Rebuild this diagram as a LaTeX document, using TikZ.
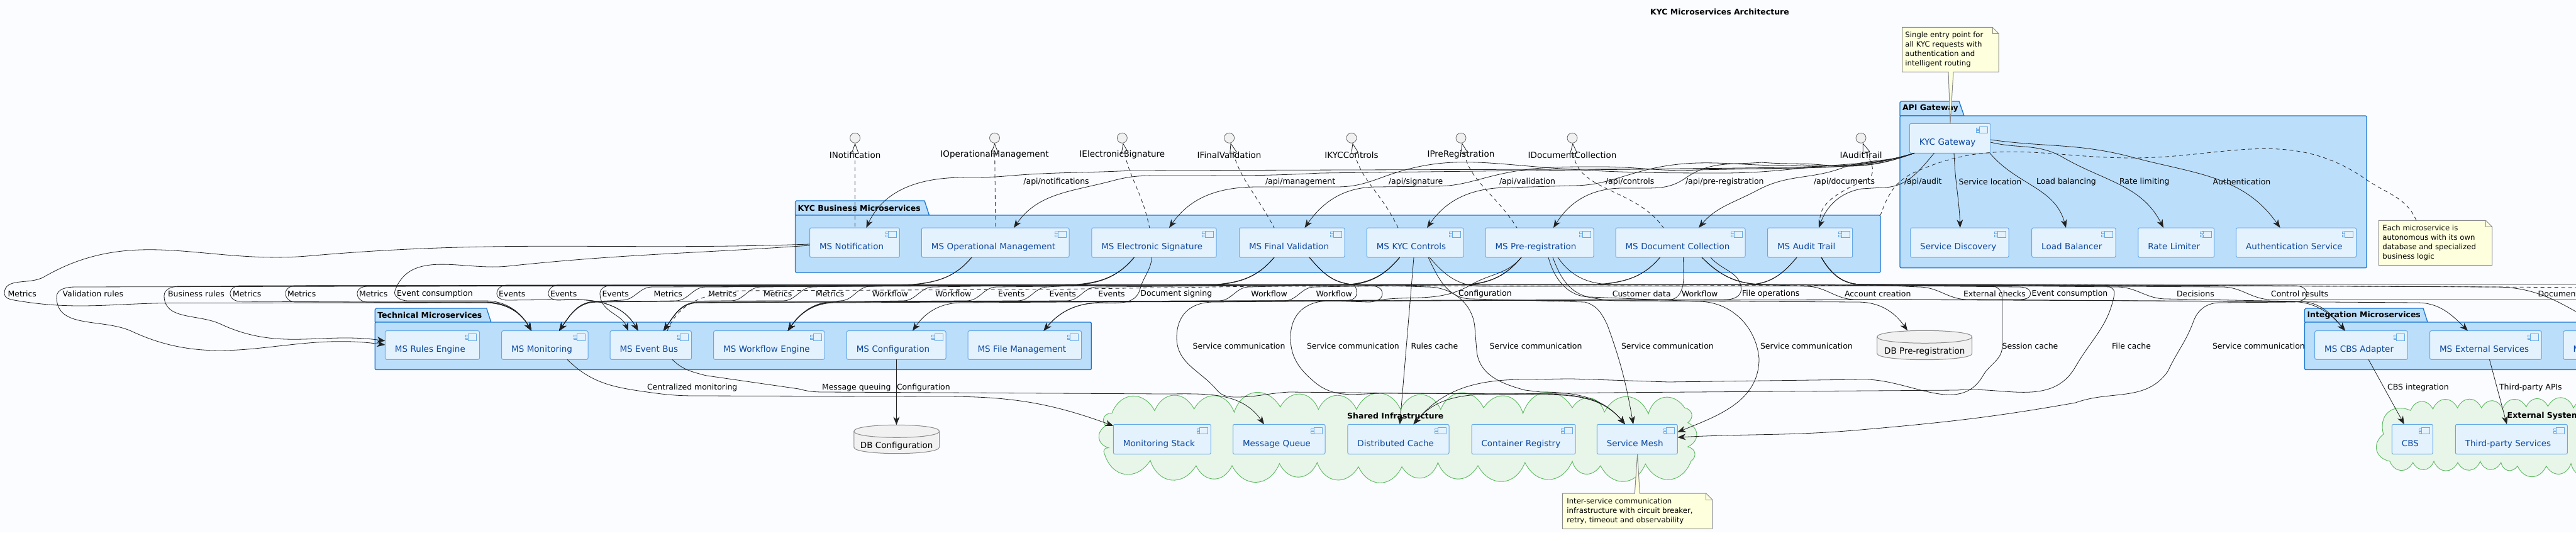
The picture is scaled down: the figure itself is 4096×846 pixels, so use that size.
\documentclass[tikz,border=0pt]{standalone}
\usepackage{fontspec}
\setmainfont{DejaVu Sans}
\usetikzlibrary{arrows.meta}
\definecolor{pagebg}{HTML}{FAFCFF}
\definecolor{pkgfill}{HTML}{BBDEFB}
\definecolor{pkgline}{HTML}{1976D2}
\definecolor{compfill}{HTML}{E3F2FD}
\definecolor{compline}{HTML}{64A8E8}
\definecolor{comptext}{HTML}{0D47A1}
\definecolor{cloudfill}{HTML}{E8F5E9}
\definecolor{cloudline}{HTML}{5CB85F}
\definecolor{notefill}{HTML}{FEFFDD}
\definecolor{greyline}{HTML}{8A8A8A}
\definecolor{dbfill}{HTML}{F1F1F1}
\definecolor{edgecol}{HTML}{222222}
\tikzset{
  x=1pt,y=-1pt,
  every node/.style={inner sep=0pt,outer sep=0pt},
  lbl/.style={anchor=west,font=\fontsize{12.5}{15}\selectfont,text=black},
  bold/.style={anchor=west,font=\fontsize{12.5}{15}\selectfont\bfseries,text=black},
  compbox/.style={draw=compline,fill=compfill,line width=1pt,rounded corners=2.5pt,inner xsep=15.5pt,inner ysep=0pt,
    align=left,text height=24pt,text depth=2pt,text=comptext,font=\fontsize{13.5}{16}\selectfont},
  iconst/.style={draw=compline,fill=compfill,line width=.9pt},
  pkgst/.style={draw=pkgline,fill=pkgfill,line width=1.3pt,line join=round},
  pkgbody/.style={pkgst,rounded corners=2pt},
  cloudst/.style={draw=cloudline,fill=cloudfill,line width=.9pt},
  notest/.style={draw=greyline,fill=notefill,line width=1pt,line join=miter},
  notetxt/.style={anchor=west,font=\fontsize{11.7}{15}\selectfont,text=black},
  dbst/.style={draw=greyline,fill=dbfill,line width=1pt},
  dbnode/.style={text height=30pt,text depth=2pt,align=center,font=\fontsize{13.5}{16}\selectfont,text=black},
  iface/.style={circle,draw=edgecol!70,fill=dbfill,line width=.8pt,minimum size=16pt},
  ifacelbl/.style={anchor=center,font=\fontsize{13.5}{16}\selectfont,text=black},
  conn/.style={draw=edgecol,line width=.8pt,-{Stealth[length=13pt,width=10pt,inset=4pt]}},
  plainline/.style={draw=edgecol,line width=.8pt},
  dashline/.style={draw=edgecol,line width=.8pt,dash pattern=on 6pt off 5pt},
  ifedge/.style={dashline,{Triangle[open,length=17pt,width=12pt]}-},
}
\newcommand\comp[6]{%
  \node[compbox,minimum width={(#4-#2)*1pt},minimum height={(#5-#3)*1pt},text width={(#4-#2-31)*1pt}] (#1) at ({(#2+#4)/2},{(#3+#5)/2}) {\mbox{#6}};
  \draw[iconst] ([shift={(-18,5)}]#1.north east) rectangle ++(13.3,10.3);
  \draw[iconst] ([shift={(-22.3,6.7)}]#1.north east) rectangle ++(4.6,2.7);
  \draw[iconst] ([shift={(-22.3,11.3)}]#1.north east) rectangle ++(4.6,2.7);
}
\newcommand\pkg[9]{%
  \draw[pkgst] (#2,#6) -- (#2,{#3+2}) -- ({#2+2},#3) -- (#5,#3) -- (#4,#6) -- cycle;
  \node[pkgbody,minimum width={(#7-#2)*1pt},minimum height={(#8-#6)*1pt}] (#1) at ({(#2+#7)/2},{(#6+#8)/2}) {};
  \node[bold] (#1-l) at ({#2+4},{(#3+#6)/2}) {#9};
}
\newcommand\dbshape[4]{%
  \draw[dbst] (#1,{#2+10}) .. controls (#1,{#2-3.3}) and (#3,{#2-3.3}) .. (#3,{#2+10}) -- (#3,{#4-10})
     .. controls (#3,{#4+3.3}) and (#1,{#4+3.3}) .. (#1,{#4-10}) -- cycle;
  \draw[dbst,fill=none] (#1,{#2+10}) .. controls (#1,{#2+23.3}) and (#3,{#2+23.3}) .. (#3,{#2+10});
}
\newcommand\LU[3]{-- ({#1+16},#2) to[out=180,in=90] (#1,466.5) to[out=-90,in=180] ({#1+16},#3)}
\newcommand\SL[3]{-- (#1,#2) to[out=180,in=0] ({#1-48},#3)}
\newcommand\SR[3]{-- (#1,#2) to[out=0,in=180] ({#1+78},#3)}
\newcommand\elabel[4]{\node[lbl] (#1) at (#2,#3) {#4};}
\newcommand\iface[4]{%
  \node[iface] (#1) at (#2,219.3) {};
  \node[ifacelbl] (#1-l) at (#3,246) {#4};
}
\begin{document}
\begin{tikzpicture}
\useasboundingbox (0,0) rectangle (4096,846);
\fill[pagebg] (0,0) rectangle (4096,846);
\clip (0,0) rectangle (4096,846);

% clouds
\draw[cloudst] (1767.9,656.7) \foreach \x/\y in {1836/652.7,1898.6/650,1962.4/655,2035.7/646.7,2096.3/650.7,2156.9/650.7,2227/650.7,2290.8/650.7,2359/648,2421.6/657,2500/648,2551/655,2621/657.7,2678.6/648,2683.7/671.7,2683.7/710,2688.8/733,2616.3/737.3,2544.9/740,2500/733,2424.7/735,2350/740,2286.4/735,2229/741.7,2160/741.7,2094.4/735,2034.4/736.7,1959/740,1901.8/740,1829/731.7,1756.4/721.7,1762.8/711.7,1758/676.7,1767.9/656.7} { to[bend left=65,looseness=1.4] (\x,\y) } -- cycle;
\node[bold,anchor=center] (sharedlbl) at (2218.8,661) {Shared Infrastructure};
\draw[cloudst] (3789.8,690) \foreach \x/\y in {3833/652.3,3868.5/650,3907.6/648.3,3945.7/648.3,3979.2/650,4016.8/646.7,4051.3/645.7,4091.9/648.3,4130/650,4150/700,4130/745,4088/736.7,4048.7/740.7,4003/740.7,3976.7/735,3943.7/733,3908/735,3870/733,3836.6/735,3800/733,3789.8/690} { to[bend left=65,looseness=1.4] (\x,\y) } -- cycle;
\node[bold] (extlbl) at (3986.7,661) {External Systems};

% packages
\pkg{pgate}{3021}{161}{3123}{3115}{184}{3763}{425.7}{API Gateway}
\pkg{pbiz}{1264.5}{319}{1477.5}{1470}{342}{2990}{433}{KYC Business Microservices}
\pkg{ptech}{596.3}{490}{780.8}{773.7}{512}{1735.3}{587.5}{Technical Microservices}
\pkg{pint}{3664.5}{490}{3860}{3853}{512}{4300}{587.5}{Integration Microservices}

% components
\comp{gw}{3036.3}{196.3}{3165}{243.3}{KYC Gateway}
\comp{sd}{3037.7}{362}{3194}{409}{Service Discovery}
\comp{lb}{3230.7}{362}{3364}{409}{Load Balancer}
\comp{rl}{3399.8}{362}{3520.7}{409}{Rate Limiter}
\comp{auth}{3555.7}{362}{3746.5}{409}{Authentication Service}

\comp{notif}{1287.5}{362}{1430.4}{409}{MS Notification}
\comp{opm}{1465.4}{362}{1700}{409}{MS Operational Management}
\comp{elec}{1735.8}{362}{1934}{409}{MS Electronic Signature}
\comp{fin}{1970.5}{362}{2138}{409}{MS Final Validation}
\comp{kyc}{2173.3}{362}{2327}{409}{MS KYC Controls}
\comp{pre}{2362}{362}{2534}{409}{MS Pre-registration}
\comp{doc}{2569}{362}{2775}{409}{MS Document Collection}
\comp{audit}{2810.5}{362}{2945.7}{409}{MS Audit Trail}

\comp{rules}{612.4}{525.7}{762.5}{571.3}{MS Rules Engine}
\comp{mon}{797.6}{525.7}{935}{571.3}{MS Monitoring}
\comp{bus}{970}{525.7}{1099.5}{571.3}{MS Event Bus}
\comp{wf}{1134.6}{525.7}{1311}{571.3}{MS Workflow Engine}
\comp{cfg}{1346.3}{525.7}{1504}{571.3}{MS Configuration}
\comp{file}{1539}{525.7}{1719.6}{571.3}{MS File Management}

\comp{cbsa}{3680.7}{525.7}{3828.4}{571.3}{MS CBS Adapter}
\comp{exts}{3863.5}{525.7}{4041.3}{571.3}{MS External Services}
\comp{ithird}{4076}{525.7}{4260}{571.3}{M}

\comp{mstack}{1770.4}{674.3}{1925.4}{721.7}{Monitoring Stack}
\comp{mq}{1960.5}{674.3}{2107}{721.7}{Message Queue}
\comp{cache}{2142.9}{674.3}{2304}{721.7}{Distributed Cache}
\comp{creg}{2340}{674.3}{2505}{721.7}{Container Registry}
\comp{mesh}{2539.3}{674.3}{2667.3}{721.7}{Service Mesh}

\comp{cbs}{3803.3}{674.3}{3868.3}{721.7}{CBS}
\comp{tps}{3904.3}{674.3}{4082.3}{721.7}{Third-party Services}

% databases
\dbshape{1357.8}{675.3}{1493.6}{720.7}
\node[dbnode,minimum width=135.8pt,minimum height=45.4pt] (dbc) at (1425.7,698) {DB Configuration};
\dbshape{2984.7}{525.3}{3135.7}{571.7}
\node[dbnode,minimum width=151pt,minimum height=46.4pt] (dbp) at (3060.2,548.5) {DB Pre-registration};

% interfaces
\iface{iNotif}{1359.6}{1359.6}{INotification}
\iface{iOper}{1581.5}{1581.5}{IOperationalManagement}
\iface{iElec}{1784.3}{1784.3}{IElectronicSignature}
\iface{iFin}{1954.6}{1954.6}{IFinalValidation}
\iface{iKyc}{2149}{2149}{IKYCControls}
\iface{iPre}{2323}{2323}{IPreRegistration}
\iface{iDoc}{2500}{2500}{IDocumentCollection}
\iface{iAud}{2959}{2959}{IAuditTrail}

\draw[ifedge] (iNotif) -- (1359.6,0 |- notif.north);
\draw[ifedge] (iOper) -- (1582.8,0 |- opm.north);
\draw[ifedge] (iElec) to[out=-80,in=101] (1827.7,0 |- elec.north);
\draw[ifedge] (iFin) to[out=-75,in=118] (2026,0 |- fin.north);
\draw[ifedge] (iKyc) to[out=-78,in=115] (2223,0 |- kyc.north);
\draw[ifedge] (iPre) to[out=-78,in=122] (2412,0 |- pre.north);
\draw[ifedge] (iDoc) to[out=-85,in=125] (2645,0 |- doc.north);
\draw[ifedge] (iAud) to[out=-70,in=25] (2968,285) to[out=205,in=113] (2897,0 |- audit.north);

% gateway outgoing
\draw[conn] (3044,0 |- gw.south) to[out=197,in=3] (2850,268) -- (1800,271) to[out=183,in=5] (1597,280) to[out=185,in=3] (1514,282.5) to[out=183,in=65] (1377.4,0 |- notif.north);
\draw[conn] (3044,0 |- gw.south) to[out=197,in=3] (2850,266) -- (2100,275) to[out=183,in=0] (1852,279) to[out=180,in=15] (1770,287) to[out=195,in=55] (1612,0 |- opm.north);
\draw[conn] (3044,0 |- gw.south) to[out=197,in=5] (2900,264) to[out=185,in=0] (2738,275) to[out=180,in=-5] (2419,263) to[out=175,in=20] (2200,281) to[out=200,in=0] (2125,297) -- (2000,297) to[out=180,in=55] (1859,0 |- elec.north);
\draw[conn] (3044,0 |- gw.south) to[out=197,in=3] (2900,266) -- (2700,270) to[out=183,in=0] (2546,265) to[out=180,in=15] (2360,283) to[out=195,in=0] (2280,296) -- (2190,297) to[out=180,in=55] (2074.5,0 |- fin.north);
\draw[conn] (3044,0 |- gw.south) to[out=200,in=-3] (2865,262) to[out=183,in=15] (2610,272) to[out=195,in=0] (2500,295) -- (2400,298) to[out=180,in=55] (2269,0 |- kyc.north);
\draw[conn] (3044,0 |- gw.south) to[out=200,in=-5] (2897,262) to[out=175,in=-5] (2801,258) to[out=185,in=35] (2680,283) to[out=215,in=0] (2610,299) -- (2580,299) to[out=180,in=58] (2470,0 |- pre.north);
\draw[conn] (3044,0 |- gw.south) to[out=200,in=20] (2929,267) to[out=200,in=28] (2795,302) to[out=208,in=50] (2701,0 |- doc.north);
\draw[conn] (3075.5,0 |- gw.south) to[out=-130,in=0] (2993,298) -- (2960,300) to[out=190,in=70] (2892,0 |- audit.north);
\draw[conn] (3107,0 |- gw.south) to[out=-88,in=92] (3116.7,0 |- sd.north);
\draw[conn] (3164,0 |- gw.south) to[out=-50,in=105] (3285,0 |- lb.north);
\draw[conn] (gw.east |- 0,226) to[out=-14,in=150] (3280,250) to[out=-30,in=117] (3440,0 |- rl.north);
\draw[conn] (gw.east |- 0,222) to[out=-8,in=165] (3391,250) to[out=-15,in=125] (3625.5,0 |- auth.north);

% left-running Metrics / rules
\draw[conn] (notif.west |- 0,388) to[out=182,in=5] (491,406.7) to[out=185,in=30] (70,440) to[out=210,in=90] (7,466.5) to[out=-90,in=170] (21,476.7) to[out=-10,in=180] (280,481.5) -- (771,481) to[out=0,in=120] (845,0 |- mon.north);
\draw[conn] (notif.west |- 0,390) to[out=184,in=6] (807,423) to[out=186,in=70] (628,462) to[out=-110,in=180] (648,478) -- (771,478) to[out=0,in=120] (845,0 |- mon.north);
\draw[conn] (2026,0 |- fin.south) to[out=-130,in=5] (1935,452) -- (120,456) to[out=180,in=90] (90,472) to[out=-90,in=155] (210,526.7) to[out=-25,in=172] (rules.west |- 0,548);
\draw[conn] (2225.6,0 |- kyc.south) to[out=-130,in=5] (2145,452) -- (285,455) to[out=180,in=90] (261,470) to[out=-90,in=155] (350.8,515) to[out=-25,in=172] (rules.west |- 0,541.7);
\draw[conn] (2419,0 |- pre.south) to[out=-130,in=5] (2335,452) \LU{366}{454}{479} -- (771,481) to[out=0,in=120] (845,0 |- mon.north);
\draw[conn] (2639.5,0 |- doc.south) to[out=-130,in=5] (2540,452) \LU{454}{454}{480} -- (771,480) to[out=0,in=120] (845,0 |- mon.north);
\draw[conn] (2857,0 |- audit.south) to[out=-130,in=5] (2785,452) \LU{568}{455}{480} -- (771,480) to[out=0,in=120] (845,0 |- mon.north);
\draw[conn] (2639.5,0 |- doc.south) to[out=-130,in=5] (2540,452.5) \LU{790}{453}{477} -- (912,476) to[out=0,in=120] (1014.7,0 |- bus.north);
\draw[conn] (2419,0 |- pre.south) to[out=-130,in=5] (2335,452.5) \LU{872}{453}{477} -- (912,476) to[out=0,in=120] (1014.7,0 |- bus.north);
\draw[conn] (2857,0 |- audit.south) to[out=-130,in=5] (2785,452.5) -- (970,454) to[out=180,in=90] (954,466.5) to[out=-90,in=112] (999,0 |- bus.north);

% S curves going left along the label row
\draw[conn] (2225.6,0 |- kyc.south) to[out=-130,in=5] (2145,452.5) \SL{1037}{456}{477} -- (948,479) to[out=180,in=55] (889,0 |- mon.north);
\draw[conn] (2026,0 |- fin.south) to[out=-130,in=5] (1935,452.5) \SL{1122}{456}{478} -- (948,480) to[out=180,in=55] (889,0 |- mon.north);
\draw[conn] (1803.4,0 |- elec.south) to[out=-130,in=5] (1712,452) \SL{1210}{456}{478} -- (948,480) to[out=180,in=55] (889,0 |- mon.north);
\draw[conn] (1545,0 |- opm.south) to[out=-130,in=5] (1450,452) \SL{1293}{456}{478} -- (948,479) to[out=180,in=55] (889,0 |- mon.north);
\draw[conn] (1545,0 |- opm.south) to[out=-130,in=5] (1450,452.5) \SL{1384}{455}{478} -- (1329,479) to[out=180,in=55] (1252.6,0 |- wf.north);
\draw[conn] (1803.4,0 |- elec.south) to[out=-130,in=5] (1712,452.5) \SL{1484}{456}{478} -- (1329,480) to[out=180,in=55] (1252.6,0 |- wf.north);
\draw[conn] (2225.6,0 |- kyc.south) to[out=-130,in=5] (2145,452) \SL{1986}{456}{478} -- (1329,481) to[out=180,in=55] (1252.6,0 |- wf.north);
\draw[conn] (2419,0 |- pre.south) to[out=-130,in=5] (2335,452) \SL{2090}{456}{478} -- (1329,480) to[out=180,in=55] (1252.6,0 |- wf.north);
\draw[conn] (2676.5,0 |- doc.south) -- (2677,440) to[out=-90,in=0] (2655,476) -- (1329,480) to[out=180,in=55] (1252.6,0 |- wf.north);
\draw[conn] (2026,0 |- fin.south) to[out=-130,in=5] (1935,452) \SL{1585}{456}{478} -- (1110,481) to[out=180,in=55] (1055,0 |- bus.north);
\draw[conn] (1803.4,0 |- elec.south) to[out=-130,in=5] (1712,453) \SL{1666}{456}{478} -- (1110,481) to[out=180,in=55] (1055,0 |- bus.north);
\draw[conn] (2225.6,0 |- kyc.south) to[out=-130,in=5] (2145,453) \SL{1744}{456}{478} -- (1110,481) to[out=180,in=55] (1055,0 |- bus.north);
\draw[conn] (2419,0 |- pre.south) to[out=-130,in=30] (2340,452) to[out=210,in=8] (2190,477) -- (1530,481) to[out=180,in=55] (1451,0 |- cfg.north);
\draw[conn] (1831.5,0 |- elec.south) to[out=-95,in=75] (1812.5,460) to[out=-105,in=0] (1749,481.5) to[out=180,in=50] (1659.4,0 |- file.north);
\draw[conn] (2720,0 |- doc.south) to[out=-50,in=90] (2768.5,460) to[out=-90,in=0] (2745,476) -- (1760,480) to[out=180,in=50] (1659.4,0 |- file.north);

% dropping to shared infrastructure
\draw[conn] (2082,0 |- fin.south) to[out=-50,in=175] (2150,452) to[out=-5,in=90] (2157,466.5) to[out=-90,in=0] (2135,478) -- (1930,480) to[out=180,in=90,looseness=1.15] (1871,536.7) to[out=-90,in=130] (1935,620) to[out=-50,in=180] (1966,631) to[out=0,in=183] (2050,623) -- (2450,627) to[out=0,in=130] (2584,0 |- mesh.north);
\draw[conn] (2082,0 |- fin.south) to[out=-50,in=175] (2150,452) -- (2180,454) to[out=0,in=90] (2198,466.5) to[out=-90,in=0] (2176,480) -- (2115,478) to[out=180,in=90,looseness=1.15] (2052,536.7) to[out=-90,in=140] (2090,607) to[out=-40,in=180] (2200,625) -- (2450,626) to[out=0,in=130] (2584,0 |- mesh.north);
\draw[conn] (2082,0 |- fin.south) to[out=-50,in=175] (2150,452) -- (2270,456) to[out=0,in=95] (2345,520) -- (2348,557) to[out=-85,in=165] (2425,620) -- (2450,623) to[out=0,in=130] (2584,0 |- mesh.north);
\draw[conn] (2248,0 |- kyc.south) -- (2225.8,0 |- cache.north);
\draw[conn] (2271,0 |- kyc.south) to[out=-65,in=180] (2340,475) -- (2520,480) to[out=-15,in=115] (2556,517) to[out=-70,in=100] (2597,0 |- mesh.north);
\draw[conn] (2462,0 |- pre.south) to[out=-75,in=180] (2529,472) -- (2700,479) to[out=0,in=95] (2797,570) to[out=-90,in=22] (mesh.east |- 0,686.7);
\draw[conn] (2469,0 |- pre.south) to[out=-70,in=170] (2530,473) to[out=-10,in=180] (2574,478) -- (2954,480) to[out=0,in=125] (3033,0 |- dbp.north);
\draw[conn] (2273,0 |- kyc.south) to[out=-50,in=180] (2357,455) -- (3165,454) to[out=0,in=90] (3183.7,472) -- (3183.7,550) to[out=-90,in=60] (3153,597) to[out=-120,in=2] (2959,603) -- (2653,607) -- (2500,602) to[out=180,in=0] (2425,603) to[out=180,in=50] (2247.4,0 |- cache.north);
\draw[conn] (2477,0 |- pre.south) to[out=-55,in=178] (2560,452) -- (3345,454) to[out=0,in=80] (3362,467) to[out=-100,in=60] (3300,583) to[out=-120,in=5] (3112,620) -- (2551,624) -- (2400,626) to[out=180,in=50] (2247.4,0 |- cache.north);
\draw[conn] (2896,0 |- audit.south) to[out=-60,in=180] (2960,452) -- (3650,454) to[out=0,in=90] (3668,467) to[out=-90,in=0] (3645,480) -- (3530,481) to[out=180,in=70] (3488,510) to[out=-110,in=65] (3447,590) to[out=-125,in=20] (3300,640) to[out=190,in=5] (2959,683) to[out=185,in=3] (mesh.east |- 0,695);

% right running
\draw[conn] (2706,0 |- doc.south) to[out=-45,in=178] (2800,452) \SR{2872}{455}{476} -- (3640,479) to[out=0,in=130] (3729,0 |- cbsa.north);
\draw[conn] (2896,0 |- audit.south) to[out=-60,in=180] (2960,452) \SR{3051}{456}{476} -- (3843,481) to[out=0,in=135] (3924,0 |- exts.north);
\draw[conn] (2706,0 |- doc.south) to[out=-45,in=178] (2800,452) -- (3210,456) to[out=0,in=90] (3228.5,466.5) to[out=-90,in=0] (3210,476) -- (1110,480) to[out=180,in=55] (1055,0 |- bus.north);
\draw[conn] (2896,0 |- audit.south) to[out=-60,in=180] (2960,452) \SR{3366}{456}{475} -- (3655,479) to[out=0,in=130] (3729,0 |- cbsa.north);
\coordinate (offA) at (4130,476);
\coordinate (offB) at (4130,515);
\coordinate (offC) at (4130,452);
\coordinate (offD) at (4130,457);
\draw[plainline] (2706,0 |- doc.south) to[out=-45,in=178] (2800,452) \SR{3533.5}{456}{476} -- (offA);
\draw[plainline] (2896,0 |- audit.south) to[out=-60,in=180] (2960,452) -- (3967,456) to[out=0,in=150] (offB);
\draw[plainline] (2896,0 |- audit.south) to[out=-60,in=180] (2960,452) -- (offC);
\draw[dashline] (1061,0 |- bus.north) to[out=68,in=185] (1176,462) -- (1656,460) -- (2000,455) -- (3300,453) -- (3800,455) -- (offD);

% lower tier
\draw[conn] (902,0 |- mon.south) to[out=-45,in=172] (1029,623) to[out=-8,in=180] (1106,629) -- (1500,630) to[out=0,in=160] (mstack.west |- 0,676.7);
\draw[conn] (1069,0 |- bus.south) to[out=-45,in=165] (1122,596.7) -- (1270,618) to[out=-15,in=180] (1310,623) -- (1500,624) -- (1850,626) to[out=0,in=125] (2010,0 |- mq.north);
\draw[conn] (1425.4,0 |- cfg.south) -- (1425.4,0 |- dbc.north);
\draw[conn] (3766,0 |- cbsa.south) -- (3822.8,0 |- cbs.north);
\draw[conn] (3958.4,0 |- exts.south) -- (3986,0 |- tps.north);

% edge labels
\elabel{l01}{1627.4}{288.7}{/api/notifications}
\elabel{l02}{2012}{288.7}{/api/management}
\elabel{l03}{2208}{288.7}{/api/signature}
\elabel{l04}{2384}{288.7}{/api/validation}
\elabel{l05}{2553}{288.7}{/api/controls}
\elabel{l06}{2680}{288.7}{/api/pre-registration}
\elabel{l07}{2884}{288.7}{/api/documents}
\elabel{l08}{3028}{288.7}{/api/audit}
\elabel{l09}{3114.6}{288.7}{Service location}
\elabel{l10}{3238}{288.7}{Load balancing}
\elabel{l11}{3370}{288.7}{Rate limiting}
\elabel{l12}{3518.6}{288.7}{Authentication}
\elabel{m01}{12.6}{466.7}{Metrics}
\elabel{m02}{99.6}{466.7}{Validation rules}
\elabel{m03}{267}{466.7}{Business rules}
\elabel{m04}{370}{466.7}{Metrics}
\elabel{m05}{457}{466.7}{Metrics}
\elabel{m06}{571}{466.7}{Metrics}
\elabel{m07}{631}{466.7}{Event consumption}
\elabel{m08}{793}{466.7}{Events}
\elabel{m09}{875}{466.7}{Events}
\elabel{m10}{957.5}{466.7}{Events}
\elabel{m11}{1039.5}{466.7}{Metrics}
\elabel{m12}{1126}{466.7}{Metrics}
\elabel{m13}{1214}{466.7}{Metrics}
\elabel{m14}{1297}{466.7}{Metrics}
\elabel{m15}{1386.5}{466.7}{Workflow}
\elabel{m16}{1487}{466.7}{Workflow}
\elabel{m17}{1587}{466.7}{Events}
\elabel{m18}{1668.6}{466.7}{Events}
\elabel{m19}{1746.4}{466.7}{Events}
\elabel{m20}{1813.4}{466.7}{Document signing}
\elabel{m21}{1989.4}{466.7}{Workflow}
\elabel{m22}{2092.5}{466.7}{Workflow}
\elabel{m23}{2319}{466.7}{Configuration}
\elabel{m24}{2563.8}{466.7}{Customer data}
\elabel{m25}{2674}{466.7}{Workflow}
\elabel{m26}{2770}{466.7}{File operations}
\elabel{m27}{2933}{466.7}{Account creation}
\elabel{m28}{3122}{466.7}{External checks}
\elabel{m29}{3230.6}{466.7}{Event consumption}
\elabel{m30}{3461}{466.7}{Decisions}
\elabel{m31}{3611}{466.7}{Control results}
\elabel{m32}{4035.7}{466.7}{Document}
\elabel{s01}{1896.7}{549.7}{Service communication}
\elabel{s02}{2078}{549.7}{Service communication}
\elabel{s03}{2243.6}{549.7}{Rules cache}
\elabel{s04}{2368.6}{549.7}{Service communication}
\elabel{s05}{2578}{549.7}{Service communication}
\elabel{s06}{2799}{549.7}{Service communication}
\elabel{s07}{3183.7}{549.7}{Session cache}
\elabel{s08}{3358}{549.7}{File cache}
\elabel{s09}{3518}{549.7}{Service communication}
\elabel{c01}{1029}{615.7}{Centralized monitoring}
\elabel{c02}{1307}{615.7}{Message queuing}
\elabel{c03}{1426}{615.7}{Configuration}
\elabel{c04}{3796}{615.7}{CBS integration}
\elabel{c05}{3974}{615.7}{Third-party APIs}

% title
\node[bold,anchor=center] (title) at (2734.5,19) {KYC Microservices Architecture};

% notes
\draw[notest] (3024.5,43.3) -- (3168,43.3) -- (3178,53.3) -- (3178,114.3) -- (3106,114.3) -- (3101,0 |- gw.north) -- (3098,114.3) -- (3024.5,114.3) -- cycle;
\draw[notest,fill=none] (3168,43.3) -- (3168,53.3) -- (3178,53.3);
\node[notetxt,anchor=north west] (note1) at (3029.4,49) {\begin{tabular}{@{}l@{}}Single entry point for\\all KYC requests with\\authentication and\\intelligent routing\end{tabular}};
\draw[notest] (3782,350.3) -- (3952.5,350.3) -- (3962.5,360.3) -- (3962.5,421.7) -- (3782,421.7) -- cycle;
\draw[notest,fill=none] (3952.5,350.3) -- (3952.5,360.3) -- (3962.5,360.3);
\node[notetxt,anchor=north west] (note2) at (3788.4,356) {\begin{tabular}{@{}l@{}}Each microservice is\\autonomous with its own\\database and specialized\\business logic\end{tabular}};
\draw[dashline] (3842,350.3) to[out=113,in=-35] (3762,285) to[out=145,in=0] (3391,251) to[out=180,in=25] (3042,275) to[out=205,in=70] (pbiz.north east);
\draw[notest] (2484.3,784) -- (2599.3,784) -- (2603.6,0 |- mesh.south) -- (2607.3,784) -- (2712.7,784) -- (2722.7,794) -- (2722.7,840.3) -- (2484.3,840.3) -- cycle;
\draw[notest,fill=none] (2712.7,784) -- (2712.7,794) -- (2722.7,794);
\node[notetxt,anchor=north west] (note3) at (2491.3,790) {\begin{tabular}{@{}l@{}}Inter-service communication\\infrastructure with circuit breaker,\\retry, timeout and observability\end{tabular}};
\end{tikzpicture}
\end{document}
